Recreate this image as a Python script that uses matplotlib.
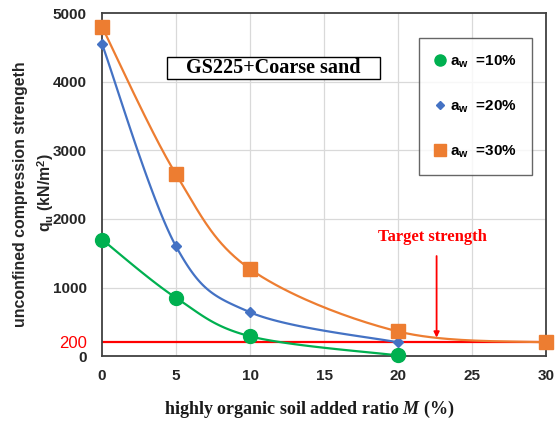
import matplotlib.pyplot as plt
from matplotlib.patches import Rectangle
import numpy as np

plt.rcParams['mathtext.fontset'] = 'custom'
plt.rcParams['mathtext.it'] = 'Liberation Serif:italic:bold'
plt.rcParams['font.family'] = 'Liberation Sans'

# data
m_10 = [0, 5, 10, 20]
qu_10 = [1700, 850, 290, 10]
m_20 = [0, 5, 10, 20]
qu_20 = [4550, 1600, 640, 200]
m_30 = [0, 5, 10, 20, 30]
qu_30 = [4800, 2650, 1270, 360, 200]
target = 200
y_ticks = [0, 200, 1000, 2000, 3000, 4000, 5000]
x_ticks = [0, 5, 10, 15, 20, 25, 30]

GREEN = '#00B050'
BLUE = '#4472C4'
ORANGE = '#ED7D31'
RED = '#FF0000'


def smooth(x, y, sx=14.8, sy=0.0686, n=40):
    # Excel-style smoothed line (Bezier through points, tension 1/6) in screen units
    p = np.column_stack([np.asarray(x, float) * sx, np.asarray(y, float) * sy])
    pts = np.vstack([p[0], p, p[-1]])
    out = []
    t = np.linspace(0, 1, n)[:, None]
    for i in range(1, len(pts) - 2):
        p0, p1, p2, p3 = pts[i - 1], pts[i], pts[i + 1], pts[i + 2]
        c1 = p1 + (p2 - p0) / 6
        c2 = p2 - (p3 - p1) / 6
        b = ((1 - t) ** 3) * p1 + 3 * ((1 - t) ** 2) * t * c1 + 3 * (1 - t) * t ** 2 * c2 + t ** 3 * p2
        out.append(b)
    b = np.vstack(out)
    return b[:, 0] / sx, b[:, 1] / sy


fig = plt.figure(figsize=(5.59, 4.23), dpi=100)
ax = fig.add_axes([0.1825, 0.158, 0.7945, 0.811])

for v in [5, 10, 15, 20, 25]:
    ax.axvline(v, color='#D9D9D9', lw=0.9, zorder=0)
for v in [1000, 2000, 3000, 4000]:
    ax.axhline(v, color='#D9D9D9', lw=0.9, zorder=0)

ax.plot([0, 30], [target, target], color=RED, lw=1.6, zorder=2)

for xs, ys, col, mk, ms, lab in [
    (m_10, qu_10, GREEN, 'o', 10, r'a$_{\mathregular{w}}$  =10%'),
    (m_20, qu_20, BLUE, 'D', 5.5, r'a$_{\mathregular{w}}$  =20%'),
    (m_30, qu_30, ORANGE, 's', 10, r'a$_{\mathregular{w}}$  =30%'),
]:
    sxv, syv = smooth(xs, ys)
    ax.plot(sxv, syv, color=col, lw=1.6, zorder=3)
    ax.plot(xs, ys, ls='none', marker=mk, color=col, ms=ms, zorder=4, label=lab, clip_on=False)

ax.set_xlim(0, 30)
ax.set_ylim(0, 5000)
ax.set_xticks(x_ticks)
ax.set_yticks(y_ticks)
ax.tick_params(length=0, labelsize=11)
ax.tick_params(axis='x', pad=9)
ax.tick_params(axis='y', pad=11)
for lbl in ax.get_xticklabels() + ax.get_yticklabels():
    lbl.set_fontweight('bold')
    lbl.set_color('#262626')
ax.get_yticklabels()[1].set_color(RED)
ax.get_yticklabels()[1].set_fontweight('normal')
ax.get_yticklabels()[1].set_fontsize(12)
for s in ax.spines.values():
    s.set_color('#404040')
    s.set_linewidth(1.3)

fig.text(0.553, 0.031, 'highly organic soil added ratio $M$ (%)', family='Liberation Serif',
         fontsize=13, fontweight='bold', ha='center', va='center', color='#1a1a1a')
fig.text(0.037, 0.541, 'unconfined compression strengeth', rotation=90, ha='center', va='center',
         fontsize=11.4, fontweight='bold', color='#262626')
fig.text(0.081, 0.545, r'q$_{\mathregular{u}}$ (kN/m$^{\mathregular{2}}$)', rotation=90, ha='center',
         va='center', fontsize=11.4, fontweight='bold', color='#262626')

ax.add_patch(Rectangle((0.146, 0.808), 0.48, 0.064, transform=ax.transAxes, fc='white',
                       ec='black', lw=1, zorder=5))
ax.text(0.386, 0.840, 'GS225+Coarse sand', transform=ax.transAxes, ha='center', va='center',
        family='Liberation Serif', fontsize=14.5, fontweight='bold', zorder=6)

ax.text(22.3, 1735, 'Target strength', color=RED, family='Liberation Serif', fontsize=12,
        fontweight='bold', ha='center', va='center')
ax.annotate('', xy=(22.6, 230), xytext=(22.6, 1500),
            arrowprops=dict(arrowstyle='-|>', color=RED, lw=1.3, mutation_scale=8))

leg = ax.legend(loc='upper left', bbox_to_anchor=(0.713, 0.927), frameon=True, fancybox=False,
                edgecolor='#404040', labelspacing=1.9, handlelength=0.8, handletextpad=0.25,
                borderpad=1.0, borderaxespad=0, prop={'weight': 'bold', 'size': 11},
                markerscale=0.8)
leg.get_frame().set_linewidth(1)

fig.savefig('out.png', dpi=100)
